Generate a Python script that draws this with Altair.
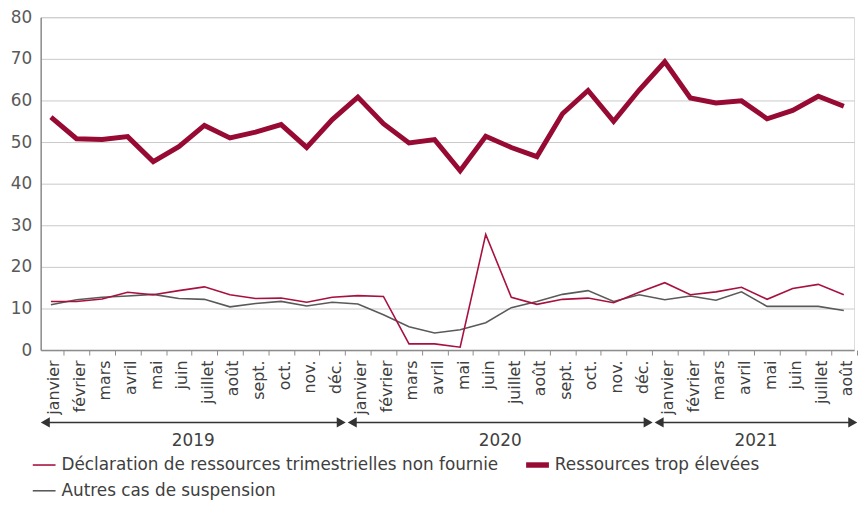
import altair as alt
import pandas as pd

months = ["janvier", "février", "mars", "avril", "mai", "juin", "juillet", "août",
          "sept.", "oct.", "nov.", "déc."]
series_names = ["Déclaration de ressources trimestrielles non fournie",
                "Ressources trop élevées",
                "Autres cas de suspension"]

ressources = [56.0, 50.8, 50.6, 51.3, 45.3, 48.9, 54.0, 51.0, 52.4, 54.2, 48.7, 55.4,
              60.8, 54.4, 49.8, 50.6, 43.1, 51.4, 48.7, 46.5, 56.8, 62.4, 55.0, 62.5,
              69.3, 60.6, 59.4, 59.9, 55.6, 57.6, 61.0, 58.6]
declaration = [11.7, 11.7, 12.3, 13.9, 13.3, 14.3, 15.2, 13.3, 12.4, 12.5, 11.5, 12.7,
               13.1, 12.9, 1.5, 1.5, 0.7, 27.8, 12.7, 11.0, 12.2, 12.5, 11.4, 13.9,
               16.2, 13.3, 14.0, 15.1, 12.2, 14.8, 15.8, 13.3]
autres = [10.9, 12.1, 12.7, 13.0, 13.4, 12.4, 12.2, 10.4, 11.2, 11.7, 10.6, 11.5,
          11.1, 8.5, 5.6, 4.1, 4.9, 6.6, 10.2, 11.7, 13.4, 14.3, 11.7, 13.3,
          12.1, 13.0, 12.0, 14.0, 10.5, 10.5, 10.5, 9.5]

years = ["2019", "2020", "2021"]
year_first = [0, 12, 24]
year_last = [11, 23, 31]

y_ticks = [0, 10, 20, 30, 40, 50, 60, 70, 80]

colors = {"decl": "#A8113F", "ress": "#960A33", "autres": "#5A5A5A"}

W, H = 821, 336
x_dom = [-0.4, 31.4]
step = W / (x_dom[1] - x_dom[0])

idx = list(range(len(ressources)))
df_decl = pd.DataFrame({"idx": idx, "value": declaration})
df_ress = pd.DataFrame({"idx": idx, "value": ressources})
df_aut = pd.DataFrame({"idx": idx, "value": autres})

ydf = pd.DataFrame({"year": years, "first": year_first, "last": year_last})
ydf["start"] = ydf["first"] - 0.22
ydf["end"] = ydf["last"] + 0.35
ydf["mid"] = (ydf["start"] + ydf["end"]) / 2

xscale = alt.Scale(domain=x_dom, nice=False, zero=False)
yscale = alt.Scale(domain=[0, 80], nice=False)
label_arr = "[" + ",".join("'" + m + "'" for m in months) + "]"

x_axis = alt.Axis(values=idx, title=None, grid=False, labelOverlap=False,
                  labelExpr=label_arr + "[datum.value % 12]",
                  labelAngle=270, labelFont="DejaVu Sans", labelFontSize=16,
                  labelColor="#404040", labelPadding=5,
                  tickOffset=step / 2, labelOffset=-step / 2 + 3,
                  tickSize=5, tickColor="#8C8C8C", tickWidth=1,
                  domainColor="#8C8C8C", domainWidth=1.5)
y_axis = alt.Axis(values=y_ticks, title=None, grid=True, gridColor="#C8C8C8",
                  gridWidth=1, ticks=False, domainColor="#8C8C8C",
                  domainWidth=1.5, labelFont="DejaVu Sans", labelFontSize=17,
                  labelColor="#595959", labelPadding=9)


def series_line(d, color, width):
    return alt.Chart(d).mark_line(color=color, strokeWidth=width, strokeJoin="miter").encode(
        x=alt.X("idx:Q", scale=xscale, axis=x_axis),
        y=alt.Y("value:Q", scale=yscale, axis=y_axis),
    )


l_aut = series_line(df_aut, colors["autres"], 1.6)
l_decl = series_line(df_decl, colors["decl"], 1.6)
l_ress = series_line(df_ress, colors["ress"], 5)

arrow_line = alt.Chart(ydf).mark_rule(color="#333333", strokeWidth=1.5).encode(
    x=alt.X("start:Q", scale=xscale, axis=x_axis),
    x2="end:Q",
    y=alt.value(409),
)
arrow_left = alt.Chart(ydf).mark_point(shape="triangle-left", filled=True, opacity=1,
                                       color="#333333", size=110).encode(
    x=alt.X("start:Q", scale=xscale, axis=x_axis),
    y=alt.value(409),
)
arrow_right = alt.Chart(ydf).mark_point(shape="triangle-right", filled=True, opacity=1,
                                        color="#333333", size=110).encode(
    x=alt.X("end:Q", scale=xscale, axis=x_axis),
    y=alt.value(409),
)
year_text = alt.Chart(ydf).mark_text(font="DejaVu Sans", fontSize=17, color="#404040",
                                     baseline="middle").encode(
    x=alt.X("mid:Q", scale=xscale, axis=x_axis),
    y=alt.value(428),
    text="year:N",
)

# manual legend (layout positions in pixels relative to plot area)
leg_pos = [(-8, 452), (490, 452), (-8, 478)]
leg_cols = [colors["decl"], colors["ress"], colors["autres"]]
leg_w = [1.6, 5.5, 1.6]
legend_layers = []
for name, (lx, ly), c, w in zip(series_names, leg_pos, leg_cols, leg_w):
    d = pd.DataFrame({"label": [name]})
    legend_layers.append(alt.Chart(d).mark_rule(color=c, strokeWidth=w).encode(
        x=alt.value(lx), x2=alt.value(lx + 23), y=alt.value(ly)))
    legend_layers.append(alt.Chart(d).mark_text(
        font="DejaVu Sans", fontSize=17, color="#404040", align="left",
        baseline="middle").encode(x=alt.value(lx + 29), y=alt.value(ly), text="label:N"))

chart = alt.layer(l_aut, l_decl, l_ress, arrow_line, arrow_left, arrow_right, year_text,
                  *legend_layers).properties(
    width=W, height=H,
    autosize=alt.AutoSizeParams(type="none"),
    padding={"left": 33, "top": 7, "right": 5, "bottom": 150},
).configure_view(stroke=None).configure(background="white")

chart.save("out.html", embed_options={"renderer": "svg", "actions": False})
